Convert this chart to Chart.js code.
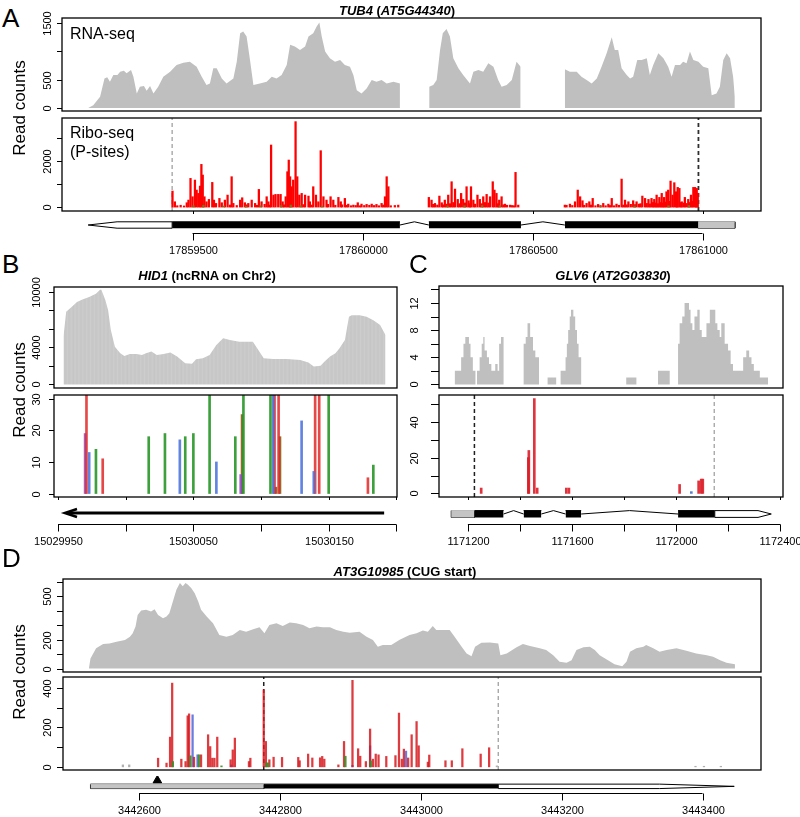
<!DOCTYPE html>
<html>
<head>
<meta charset="utf-8">
<title>Read counts: TUB4, HID1, GLV6, AT3G10985</title>
<script src="https://cdn.jsdelivr.net/npm/chart.js@4.4.1/dist/chart.umd.min.js"></script>
<style>
  body { margin: 0; background: #fff; }
  #fig { position: relative; width: 800px; height: 817px; overflow: hidden; background: #fff;
         font-family: "Liberation Sans", Arial, Helvetica, sans-serif; color: #000; }
  #fig canvas { position: absolute; }
  .txt { position: absolute; line-height: 1; white-space: nowrap; }
</style>
</head>
<body>
<div id="fig"></div>
<script>
// ---------------- data (genomic position, value) ----------------

// A: TUB4 (AT5G44340)
const aRna = [
  [17859193,0],[17859208,47],[17859228,196],[17859241,522],[17859249,540],[17859257,463],[17859267,581],
  [17859279,581],[17859287,640],[17859298,658],[17859306,611],[17859319,670],[17859326,551],[17859336,255],
  [17859345,374],[17859357,385],[17859365,302],[17859375,385],[17859385,255],[17859399,374],[17859414,551],
  [17859434,640],[17859453,759],[17859473,800],[17859492,818],[17859512,729],[17859527,551],[17859541,403],
  [17859551,433],[17859561,700],[17859571,700],[17859586,522],[17859600,433],[17859620,522],[17859630,818],
  [17859640,1322],[17859649,1352],[17859659,1263],[17859669,848],[17859679,403],[17859698,433],[17859718,463],
  [17859733,551],[17859747,522],[17859762,581],[17859777,759],[17859787,1115],[17859801,1085],[17859816,1026],
  [17859831,1085],[17859841,1263],[17859855,1322],[17859865,1441],[17859873,1512],[17859880,1263],[17859890,996],
  [17859904,878],[17859919,818],[17859934,848],[17859948,759],[17859963,729],[17859973,581],[17859983,314],
  [17859997,255],[17860012,344],[17860027,492],[17860041,463],[17860056,492],[17860071,433],[17860091,463],
  [17860110,433],[17860111,null],
  [17860196,374],[17860208,403],[17860218,492],[17860228,1026],[17860236,1322],[17860247,1394],[17860257,1263],
  [17860267,878],[17860282,700],[17860296,581],[17860316,433],[17860326,640],[17860341,670],[17860355,640],
  [17860370,789],[17860385,729],[17860399,492],[17860409,374],[17860424,403],[17860439,492],[17860453,818],
  [17860465,729],[17860466,null],
  [17860595,682],[17860610,640],[17860630,640],[17860644,551],[17860659,492],[17860674,433],[17860689,522],
  [17860703,729],[17860718,966],[17860733,1251],[17860742,1026],[17860752,1026],[17860762,700],[17860777,581],
  [17860787,522],[17860796,551],[17860808,848],[17860821,848],[17860836,878],[17860845,581],[17860855,759],
  [17860870,966],[17860885,878],[17860899,729],[17860909,551],[17860919,759],[17860934,759],[17860943,818],
  [17860953,789],[17860963,996],[17860973,848],[17860988,818],[17861002,729],[17861017,700],[17861027,225],
  [17861041,255],[17861051,374],[17861061,848],[17861071,966],[17861081,878],[17861090,551],[17861095,196]
];
const aRiboRed = [
  [17859441,696],[17859448,232],[17859455,60],[17859465,80],[17859475,50],[17859483,190],[17859488,305],
  [17859494,1247],[17859500,450],[17859507,1175],[17859512,740],[17859517,595],[17859522,914],[17859526,1856],
  [17859530,1392],[17859535,450],[17859541,232],[17859548,334],[17859558,1073],[17859563,305],[17859569,160],
  [17859579,377],[17859586,190],[17859595,305],[17859603,522],[17859610,90],[17859615,1320],[17859620,160],
  [17859630,70],[17859640,305],[17859646,406],[17859654,190],[17859659,100],[17859664,160],[17859674,305],
  [17859684,160],[17859690,80],[17859695,768],[17859703,232],[17859712,120],[17859718,450],[17859723,232],
  [17859727,90],[17859731,2697],[17859738,522],[17859744,551],[17859752,551],[17859759,551],[17859765,232],
  [17859769,100],[17859774,450],[17859779,1537],[17859783,2044],[17859787,1320],[17859791,885],[17859796,1175],
  [17859803,3712],[17859808,1320],[17859814,522],[17859821,595],[17859826,110],[17859831,522],[17859841,479],
  [17859845,232],[17859850,90],[17859855,885],[17859863,522],[17859870,232],[17859877,2450],[17859885,450],
  [17859894,305],[17859898,120],[17859906,450],[17859914,305],[17859920,80],[17859929,421],[17859936,232],
  [17859940,100],[17859948,377],[17859953,80],[17859958,130],[17859966,60],[17859973,87],[17859980,70],
  [17859986,190],[17859992,60],[17859997,130],[17860005,70],[17860012,116],[17860020,80],[17860027,130],
  [17860034,70],[17860041,116],[17860048,60],[17860056,160],[17860061,90],[17860066,450],[17860071,1320],
  [17860076,885],[17860083,60],[17860095,70],[17860105,87],
  [17860195,421],[17860203,305],[17860208,120],[17860213,160],[17860220,90],[17860226,479],[17860233,190],
  [17860237,100],[17860242,305],[17860247,130],[17860252,522],[17860257,150],[17860262,1102],[17860267,200],
  [17860272,783],[17860280,334],[17860285,150],[17860290,595],[17860296,334],[17860301,180],[17860306,885],
  [17860312,276],[17860316,150],[17860319,885],[17860326,305],[17860331,130],[17860338,522],[17860345,334],
  [17860350,150],[17860355,450],[17860360,200],[17860365,551],[17860370,180],[17860375,450],[17860383,1102],
  [17860388,740],[17860394,595],[17860398,150],[17860402,305],[17860409,450],[17860414,100],[17860419,130],
  [17860425,80],[17860434,87],[17860440,70],[17860445,60],[17860450,1508],[17860458,87],
  [17860595,87],[17860600,80],[17860610,130],[17860617,70],[17860625,232],[17860633,740],[17860640,450],
  [17860647,276],[17860652,80],[17860659,160],[17860667,232],[17860672,90],[17860677,377],[17860685,60],
  [17860693,116],[17860700,70],[17860708,160],[17860715,60],[17860723,130],[17860728,70],[17860733,377],
  [17860740,60],[17860747,130],[17860754,80],[17860762,1218],[17860767,90],[17860772,305],[17860777,100],
  [17860782,232],[17860789,120],[17860796,276],[17860801,110],[17860806,232],[17860813,130],[17860818,150],
  [17860823,479],[17860831,377],[17860836,160],[17860841,334],[17860845,140],[17860850,377],[17860854,200],
  [17860858,334],[17860862,180],[17860865,522],[17860869,150],[17860873,421],[17860877,200],[17860880,595],
  [17860884,180],[17860887,421],[17860891,220],[17860894,667],[17860899,740],[17860903,250],[17860906,1131],
  [17860912,522],[17860917,1059],[17860922,667],[17860925,250],[17860927,856],[17860932,812],[17860936,200],
  [17860939,232],[17860944,180],[17860948,421],[17860953,160],[17860958,334],[17860962,200],[17860966,522],
  [17860970,250],[17860973,856],[17860978,856],[17860981,300],[17860983,812],[17860986,600]
];
const aRiboOlive = [
  [17859503,60],[17859532,80],[17859592,50],[17859657,40],[17859700,60],[17859761,70],[17859789,90],
  [17859818,60],[17859881,50],[17860250,50],[17860300,60],[17860352,70],[17860404,60],[17860700,40],
  [17860800,50],[17860900,60],[17860960,70]
];
const aStart = 17859440, aStop = 17860988;
const aExons = [[17859440,17860110],[17860195,17860466],[17860595,17860987]];
const aIntrons = [[17860110,17860195],[17860466,17860595]];
const aUtr5 = [17860987,17861095];
const aUtr3 = { base: 17859440, taper: 17859278, tip: 17859193 };
const aRnaTicks = [0,500,1000,1500], aRnaLabels = ['0','500','','1500'];
const aRiboTicks = [0,1000,2000,3000], aRiboLabels = ['0','','2000',''];
const aXTicks = [17859500,17860000,17860500,17861000];
const aXLabels = ['17859500','17860000','17860500','17861000'];

// B: HID1 (ncRNA on Chr2)
const bRna = [
  [15029954,5161],[15029956,7849],[15029960,8387],[15029964,8925],[15029968,9175],[15029973,9462],
  [15029978,9820],[15029981,10250],[15029982,10250],[15029985,9103],[15029987,8028],[15029989,5878],
  [15029992,4086],[15029996,3369],[15029999,3082],[15030003,3297],[15030008,3297],[15030012,3190],
  [15030015,3369],[15030019,3548],[15030023,3190],[15030028,3297],[15030033,3441],[15030038,3010],
  [15030044,2294],[15030049,2222],[15030052,2724],[15030057,2831],[15030062,3190],[15030067,4265],
  [15030072,4982],[15030077,4803],[15030084,4623],[15030094,4623],[15030098,3727],[15030102,2831],
  [15030109,2760],[15030119,2760],[15030129,2652],[15030135,2365],[15030139,1935],[15030144,2007],
  [15030147,2473],[15030151,3010],[15030155,3369],[15030158,3907],[15030162,4803],[15030165,7311],
  [15030167,7490],[15030173,7490],[15030178,7311],[15030183,6953],[15030188,6415],[15030192,5340]
];
const bRiboRed = [[15029971,40],[15029983,11],[15030110,40],[15030113,40],[15030140,40],[15030143,40],[15030179,5]];
const bRiboGreen = [[15029978,14],[15030017,18],[15030029,19],[15030044,18],[15030050,19],[15030062,40],
  [15030081,18],[15030087,40],[15030107,40],[15030150,40],[15030183,9]];
const bRiboBlue = [[15029973,13],[15030040,17],[15030067,10],[15030109,40],[15030130,23],[15030139,7]];
const bRiboPurple = [[15029970,19],[15030085,6]];
const bRiboBrown = [[15030086,25],[15030111,2],[15030114,18]];
const bTranscript = { from: 15030191, to: 15029955, head: 15029964 };
const bRnaTicks = [0,2000,4000,6000,8000,10000], bRnaLabels = ['0','','4000','','','10000'];
const bRiboTicks = [0,10,20,30], bRiboLabels = ['0','10','20','30'];
const bXTicks = [15029950,15030000,15030050,15030100,15030150,15030200];
const bXLabels = ['15029950','','15030050','','15030150',''];

// C: GLV6 (AT2G03830), coverage given as step starts
const cRna = [
  [1171149,2],[1171174,4],[1171183,6],[1171190,7],[1171204,6],[1171210,4],[1171219,2],[1171229,0],
  [1171235,2],[1171245,4],[1171253,6],[1171259,7],[1171264,5],[1171273,4],[1171281,3],[1171290,2],
  [1171305,3],[1171314,2],[1171320,6],[1171327,7],[1171337,0],[1171414,6],[1171422,7],[1171429,9],
  [1171439,7],[1171450,5],[1171459,4],[1171473,0],[1171506,1],[1171539,0],[1171556,2],[1171575,4],
  [1171580,6],[1171585,8],[1171591,10],[1171596,11],[1171605,10],[1171612,8],[1171619,6],[1171625,4],
  [1171635,0],[1171808,1],[1171847,0],[1171930,2],[1171975,0],[1172007,6],[1172013,9],[1172023,10],
  [1172032,12],[1172049,11],[1172055,9],[1172062,8],[1172070,10],[1172081,11],[1172090,8],[1172098,7],
  [1172107,7],[1172116,9],[1172129,11],[1172150,9],[1172158,8],[1172167,7],[1172173,9],[1172186,6],
  [1172199,5],[1172209,3],[1172218,2],[1172257,4],[1172269,5],[1172280,4],[1172289,3],[1172298,2],
  [1172321,1],[1172353,0]
];
const cRiboRed = [[1171251,3],[1171432,20],[1171434,24],[1171455,53],[1171466,3],[1171578,3],[1171588,3],
  [1172013,5],[1172086,7],[1172096,8],[1172102,8]];
const cRiboBlue = [[1172058,1]];
const cStart = 1171225, cStop = 1172146;
const cUtr5 = [1171136,1171225];
const cExons = [[1171225,1171337],[1171414,1171482],[1171575,1171635],[1172007,1172148]];
const cIntrons = [[1171337,1171414],[1171482,1171575],[1171635,1172007]];
const cUtr3 = { base: 1172148, taper: 1172314, tip: 1172365 };
const cRnaTicks = [0,2,4,6,8,10,12,14], cRnaLabels = ['0','','4','','8','','12',''];
const cRiboTicks = [0,10,20,30,40,50], cRiboLabels = ['0','','20','','40',''];
const cXTicks = [1171200,1171400,1171600,1171800,1172000,1172200,1172400];
const cXLabels = ['1171200','','1171600','','1172000','','1172400'];

// D: AT3G10985 (CUG start)
const dRna = [
  [3442529,7],[3442531,70],[3442539,140],[3442549,170],[3442558,174],[3442568,186],[3442580,198],
  [3442587,221],[3442591,244],[3442595,291],[3442598,372],[3442603,402],[3442610,407],[3442617,395],
  [3442622,412],[3442627,372],[3442634,349],[3442639,361],[3442643,384],[3442648,465],[3442653,547],
  [3442658,593],[3442662,570],[3442666,593],[3442669,582],[3442674,558],[3442679,523],[3442684,465],
  [3442688,407],[3442696,361],[3442705,314],[3442714,233],[3442724,221],[3442733,233],[3442743,267],
  [3442752,256],[3442762,272],[3442771,286],[3442778,244],[3442785,302],[3442795,314],[3442804,295],
  [3442814,319],[3442823,314],[3442833,302],[3442842,279],[3442852,291],[3442861,286],[3442871,286],
  [3442880,267],[3442890,256],[3442899,249],[3442913,256],[3442923,221],[3442932,198],[3442939,151],
  [3442946,163],[3442958,163],[3442970,200],[3442984,233],[3442994,244],[3443003,263],[3443010,256],
  [3443017,295],[3443022,267],[3443041,267],[3443048,221],[3443058,151],[3443065,105],[3443072,86],
  [3443077,151],[3443086,179],[3443098,181],[3443110,174],[3443113,93],[3443122,105],[3443136,147],
  [3443145,170],[3443155,156],[3443169,140],[3443178,128],[3443188,93],[3443197,47],[3443207,40],
  [3443214,58],[3443221,128],[3443231,147],[3443240,151],[3443247,128],[3443254,93],[3443264,63],
  [3443275,30],[3443286,16],[3443292,47],[3443297,116],[3443306,140],[3443316,151],[3443320,163],
  [3443330,140],[3443339,116],[3443349,128],[3443363,140],[3443377,123],[3443391,105],[3443406,93],
  [3443415,81],[3443425,58],[3443434,40],[3443446,30]
];
const dRiboRed = [
  [3442627,44],[3442639,19],[3442644,151],[3442647,425],[3442660,39],[3442666,27],[3442669,259],
  [3442671,269],[3442678,49],[3442688,61],[3442698,163],[3442701,103],[3442704,44],[3442707,44],
  [3442711,151],[3442730,36],[3442733,86],[3442736,146],[3442756,27],[3442758,44],[3442777,391],
  [3442780,129],[3442785,36],[3442791,49],[3442803,48],[3442826,48],[3442828,31],[3442840,65],
  [3442846,45],[3442857,46],[3442860,53],[3442863,39],[3442883,10],[3442891,129],[3442903,439],
  [3442911,92],[3442914,54],[3442922,27],[3442928,192],[3442932,39],[3442936,65],[3442940,61],
  [3442951,53],[3442964,57],[3442969,273],[3442973,39],[3442976,90],[3442982,45],[3442987,163],
  [3442994,230],[3442997,107],[3443010,24],[3443012,60],[3443035,31],[3443044,31],[3443059,92],
  [3443085,65],[3443097,97]
];
const dRiboBlue = [[3442676,264],[3442683,61],[3442731,10],[3442903,8],[3442928,107],[3442979,80]];
const dRiboGreen = [[3442648,27],[3442673,56],[3442685,61],[3442717,5],[3442781,20],[3442783,20],[3442893,54],[3442929,30]];
const dRiboGrey = [[3442577,10],[3442586,10],[3443108,5],[3443390,3],[3443402,3],[3443426,3]];
const dStart = 3442777, dStop = 3443110, dCug = 3442626;
const dUtr5 = [3442531,3442777];
const dExons = [[3442777,3443110]];
const dUtr3 = { base: 3443110, taper: 3443339, tip: 3443445 };
const dRnaTicks = [0,100,200,300,400,500,600], dRnaLabels = ['0','','200','','','500',''];
const dRiboTicks = [0,100,200,300,400], dRiboLabels = ['0','','200','','400'];
const dXTicks = [3442600,3442800,3443000,3443200,3443400];
const dXLabels = ['3442600','3442800','3443000','3443200','3443400'];

// ---------------- layout ----------------
const GREY = '#bfbfbf';
const PA = { left: 62, right: 761, rna: [18, 111], ribo: [118, 211], geneY: 225, axisY: 233,
             xMin: 17859116, xMax: 17861172, tickLen: 5, labelOff: 14 };
const PB = { left: 54, right: 397, rna: [287, 388], ribo: [395, 497], geneY: 513, axisY: 524,
             xMin: 15029947, xMax: 15030200.5, tickLen: 5, labelOff: 17 };
const PC = { left: 439, right: 783, rna: [286, 388], ribo: [395, 497], geneY: 514, axisY: 524,
             xMin: 1171089, xMax: 1172410, tickLen: 8, labelOff: 24 };
const PD = { left: 63, right: 761, rna: [579, 672], ribo: [677, 770], geneY: 784, axisY: 793,
             xMin: 3442492, xMax: 3443483, tickLen: 6, labelOff: 15 };

const fig = document.getElementById('fig');

// axes in the R style: box, rotated y labels, short outward ticks, x axis spanning the ticks
const trackAxes = {
  id: 'trackAxes',
  afterDraw(chart, args, o) {
    const { ctx, chartArea: a } = chart;
    const xs = chart.scales.x, ys = chart.scales.y;
    ctx.save();
    ctx.strokeStyle = '#000';
    ctx.fillStyle = '#000';
    ctx.font = '11px "Liberation Sans", Arial, sans-serif';
    if (o.frame) {
      ctx.lineWidth = 1.3;
      ctx.strokeRect(a.left, a.top, a.right - a.left, a.bottom - a.top);
    }
    ctx.lineWidth = 1;
    (o.yTicks || []).forEach((v, i) => {
      const py = Math.round(ys.getPixelForValue(v)) + 0.5;
      ctx.beginPath();
      ctx.moveTo(a.left, py);
      ctx.lineTo(a.left - o.tickLen, py);
      ctx.stroke();
      if (o.yLabels[i]) {
        ctx.save();
        ctx.translate(a.left - o.labelOff, py);
        ctx.rotate(-Math.PI / 2);
        ctx.textAlign = 'center';
        ctx.textBaseline = 'middle';
        ctx.fillText(o.yLabels[i], 0, 0);
        ctx.restore();
      }
    });
    (o.xMarks || []).forEach(v => {
      const px = Math.round(xs.getPixelForValue(v)) + 0.5;
      ctx.beginPath();
      ctx.moveTo(px, a.bottom);
      ctx.lineTo(px, a.bottom + 3);
      ctx.stroke();
    });
    if (o.xTicks) {
      const y0 = Math.round(a.bottom) + 0.5;
      ctx.beginPath();
      ctx.moveTo(xs.getPixelForValue(o.xTicks[0]), y0);
      ctx.lineTo(xs.getPixelForValue(o.xTicks[o.xTicks.length - 1]), y0);
      ctx.stroke();
      o.xTicks.forEach((v, i) => {
        const px = Math.round(xs.getPixelForValue(v)) + 0.5;
        ctx.beginPath();
        ctx.moveTo(px, y0);
        ctx.lineTo(px, y0 + 7);
        ctx.stroke();
        if (o.xLabels[i]) {
          ctx.textAlign = 'center';
          ctx.textBaseline = 'middle';
          ctx.fillText(o.xLabels[i], px, y0 + 17);
        }
      });
    }
    ctx.restore();
  }
};
Chart.register(trackAxes);

function addCanvas(x, y, w, h) {
  const c = document.createElement('canvas');
  c.width = w;
  c.height = h;
  c.style.left = x + 'px';
  c.style.top = y + 'px';
  c.style.width = w + 'px';
  c.style.height = h + 'px';
  fig.appendChild(c);
  return c;
}

function pts(arr) {
  return arr.map(p => ({ x: p[0], y: p[1] }));
}

// grey fill with the faint per-nucleotide stripes of the HID1 coverage track
function stripedGrey() {
  const p = document.createElement('canvas');
  p.width = 27;
  p.height = 4;
  const g = p.getContext('2d');
  g.fillStyle = GREY;
  g.fillRect(0, 0, 27, 4);
  g.strokeStyle = 'rgba(255,255,255,0.5)';
  g.lineWidth = 0.45;
  for (let i = 0; i < 20; i++) {
    g.beginPath();
    g.moveTo(i * 1.35 + 0.3, 0);
    g.lineTo(i * 1.35 + 0.3, 4);
    g.stroke();
  }
  return g.createPattern(p, 'repeat');
}

function chartOptions(P, yMin, yMax, pad, axes) {
  return {
    responsive: false,
    animation: false,
    events: [],
    devicePixelRatio: 1,
    layout: { padding: pad },
    elements: { point: { radius: 0 }, line: { tension: 0 } },
    plugins: { legend: { display: false }, tooltip: { enabled: false }, trackAxes: axes },
    scales: {
      x: { type: 'linear', display: false, min: P.xMin, max: P.xMax, offset: false },
      y: { type: 'linear', display: false, min: yMin, max: yMax }
    }
  };
}

function trackCanvas(P, rows, pad) {
  return addCanvas(P.left - pad.left, rows[0] - pad.top,
                   P.right - P.left + pad.left + pad.right, rows[1] - rows[0] + pad.top + pad.bottom);
}

function drawRna(P, data, yMin, yMax, yTicks, yLabels, stepped, fillStyle) {
  const pad = { left: 34, right: 2, top: 16, bottom: 8 };
  new Chart(trackCanvas(P, P.rna, pad), {
    type: 'line',
    data: { datasets: [{
      data: pts(data), fill: 'origin', stepped: stepped, spanGaps: false,
      backgroundColor: fillStyle || GREY, borderColor: 'rgba(0,0,0,0)', borderWidth: 0
    }] },
    options: chartOptions(P, yMin, yMax, pad,
      { frame: true, yTicks: yTicks, yLabels: yLabels, tickLen: P.tickLen, labelOff: P.labelOff })
  });
}

function drawRibo(P, series, markers, yMin, yMax, yTicks, yLabels, xMarks, barW) {
  const pad = { left: 34, right: 2, top: 16, bottom: 8 };
  const datasets = series.map(s => ({
    type: 'bar', data: pts(s.data), backgroundColor: s.color, borderWidth: 0,
    barThickness: barW, grouped: false, clip: 0
  }));
  markers.forEach(m => datasets.push({
    type: 'line', data: [{ x: m.pos, y: yMin }, { x: m.pos, y: yMax }],
    borderColor: m.color, borderWidth: m.width, borderDash: [4, 3], fill: false, pointRadius: 0, clip: 0
  }));
  new Chart(trackCanvas(P, P.ribo, pad), {
    type: 'bar',
    data: { datasets: datasets },
    options: chartOptions(P, yMin, yMax, pad,
      { frame: true, yTicks: yTicks, yLabels: yLabels, tickLen: P.tickLen, labelOff: P.labelOff, xMarks: xMarks })
  });
}

// gene model pieces (y in pixels around the model centre line)
function blockDs(span, h, color) {
  return { data: [{ x: span[0], y: h }, { x: span[1], y: h }], fill: { value: -h },
           backgroundColor: color, borderColor: color, borderWidth: 1 };
}
function boxDs(span, h) {
  const s = span[0], e = span[1];
  return { data: [{ x: s, y: h }, { x: e, y: h }, { x: e, y: -h }, { x: s, y: -h }, { x: s, y: h }],
           fill: false, borderColor: '#000', borderWidth: 1 };
}
function intronDs(span, h) {
  return { data: [{ x: span[0], y: 0 }, { x: (span[0] + span[1]) / 2, y: h }, { x: span[1], y: 0 }],
           fill: false, borderColor: '#000', borderWidth: 1 };
}
function arrowDs(u, h) {
  return { data: [{ x: u.base, y: h }, { x: u.taper, y: h }, { x: u.tip, y: 0 }, { x: u.taper, y: -h },
                  { x: u.base, y: -h }, { x: u.base, y: h }],
           fill: false, borderColor: '#000', borderWidth: 1 };
}

function drawGene(P, datasets, xTicks, xLabels, above) {
  const pad = { left: 40, right: 22, top: 0, bottom: 26 };
  const top = P.geneY - above;
  const c = addCanvas(P.left - pad.left, top, P.right - P.left + pad.left + pad.right, P.axisY - top + pad.bottom);
  new Chart(c, {
    type: 'line',
    data: { datasets: datasets },
    options: chartOptions(P, -(P.axisY - P.geneY), above, pad, { xTicks: xTicks, xLabels: xLabels })
  });
}

// ---------------- Panel A ----------------
drawRna(PA, aRna, -55, 1590, aRnaTicks, aRnaLabels, false);
drawRibo(PA,
  [{ data: aRiboOlive, color: '#6b7a1c' }, { data: aRiboRed, color: '#ff0000' }],
  [{ pos: aStart, color: '#a8a8a8', width: 1.4 }, { pos: aStop, color: '#303030', width: 1.8 }],
  -170, 3870, aRiboTicks, aRiboLabels, aXTicks, 1.6);
drawGene(PA, [
  arrowDs(aUtr3, 3.2),
  ...aExons.map(e => blockDs(e, 3.2, '#000')),
  ...aIntrons.map(i => intronDs(i, 3.2)),
  blockDs(aUtr5, 3.2, '#c4c4c4'), boxDs(aUtr5, 3.2)
], aXTicks, aXLabels, 10);

// ---------------- Panel B ----------------
drawRna(PB, bRna, -390, 10540, bRnaTicks, bRnaLabels, false, stripedGrey());
drawRibo(PB, [
  { data: bRiboGreen, color: 'rgba(40,150,40,0.9)' },
  { data: bRiboBlue, color: 'rgba(70,110,220,0.85)' },
  { data: bRiboRed, color: 'rgba(226,40,40,0.85)' },
  { data: bRiboPurple, color: 'rgba(140,70,190,0.85)' },
  { data: bRiboBrown, color: 'rgba(140,90,20,0.9)' }
], [], -1.1, 31.2, bRiboTicks, bRiboLabels, bXTicks, 2);
drawGene(PB, [
  { data: [{ x: bTranscript.from, y: 0 }, { x: bTranscript.to + 2, y: 0 }], fill: false, borderColor: '#000', borderWidth: 3 },
  { data: [{ x: bTranscript.head, y: 4 }, { x: bTranscript.to, y: 0 }, { x: bTranscript.head, y: -4 }],
    fill: false, borderColor: '#000', borderWidth: 2.5, borderJoinStyle: 'miter' }
], bXTicks, bXLabels, 10);

// ---------------- Panel C ----------------
drawRna(PC, cRna, -0.53, 14.5, cRnaTicks, cRnaLabels, 'before');
drawRibo(PC, [
  { data: cRiboRed, color: 'rgba(220,30,40,0.9)' },
  { data: cRiboBlue, color: '#5a7fd0' }
], [{ pos: cStart, color: '#202020', width: 1.5 }, { pos: cStop, color: '#a8a8a8', width: 1.4 }],
  -2, 55, cRiboTicks, cRiboLabels, cXTicks, 2);
drawGene(PC, [
  blockDs(cUtr5, 3.4, '#c4c4c4'), boxDs(cUtr5, 3.4),
  ...cExons.map(e => blockDs(e, 3.4, '#000')),
  ...cIntrons.map(i => intronDs(i, 3.4)),
  arrowDs(cUtr3, 3.4)
], cXTicks, cXLabels, 10);

// ---------------- Panel D ----------------
drawRna(PD, dRna, -24, 621, dRnaTicks, dRnaLabels, false);
drawRibo(PD, [
  { data: dRiboGrey, color: '#b0b0b0' },
  { data: dRiboGreen, color: 'rgba(60,140,40,0.9)' },
  { data: dRiboRed, color: 'rgba(215,25,30,0.85)' },
  { data: dRiboBlue, color: 'rgba(80,100,220,0.85)' }
], [{ pos: dStart, color: '#202020', width: 1.5 }, { pos: dStop, color: '#a8a8a8', width: 1.4 }],
  -16, 456, dRiboTicks, dRiboLabels, null, 1.6);
drawGene(PD, [
  blockDs(dUtr5, 3, '#c4c4c4'), boxDs(dUtr5, 3),
  ...dExons.map(e => blockDs(e, 3, '#000')),
  arrowDs(dUtr3, 3),
  { data: [{ x: dCug, y: 8 }], showLine: false, pointRadius: 5, pointStyle: 'triangle',
    pointBackgroundColor: '#000', pointBorderColor: '#000' }
], dXTicks, dXLabels, 14);

// ---------------- text ----------------
function addText(html, x, baseline, size, opts) {
  const d = document.createElement('div');
  d.className = 'txt';
  d.innerHTML = html;
  d.style.fontSize = size + 'px';
  d.style.left = x + 'px';
  d.style.top = (baseline - 0.8465 * size) + 'px';
  if (opts && opts.center) d.style.transform = 'translateX(-50%)';
  if (opts && opts.bold) d.style.fontWeight = 'bold';
  fig.appendChild(d);
}
function addVText(text, cx, cy, size) {
  const d = document.createElement('div');
  d.className = 'txt';
  d.textContent = text;
  d.style.fontSize = size + 'px';
  d.style.left = cx + 'px';
  d.style.top = cy + 'px';
  d.style.transform = 'translate(-50%,-50%) rotate(-90deg)';
  fig.appendChild(d);
}

addText('A', 2, 26.7, 26);
addText('B', 2, 273.3, 26);
addText('C', 409, 273.3, 26);
addText('D', 2, 566.7, 26);

addText('<i>TUB4</i> (<i>AT5G44340</i>)', 397, 15, 13, { center: true, bold: true });
addText('<i>HID1</i> (ncRNA on Chr2)', 207, 280.5, 13, { center: true, bold: true });
addText('<i>GLV6</i> (<i>AT2G03830</i>)', 613, 280.5, 13, { center: true, bold: true });
addText('<i>AT3G10985</i> (CUG start)', 405, 576, 13, { center: true, bold: true });

addText('RNA-seq', 70, 39.3, 16);
addText('Ribo-seq', 70, 138.3, 16);
addText('(P-sites)', 70, 157.3, 16);

addVText('Read counts', 19, 108, 17);
addVText('Read counts', 19, 390, 17);
addVText('Read counts', 19, 672, 17);
</script>
</body>
</html>
